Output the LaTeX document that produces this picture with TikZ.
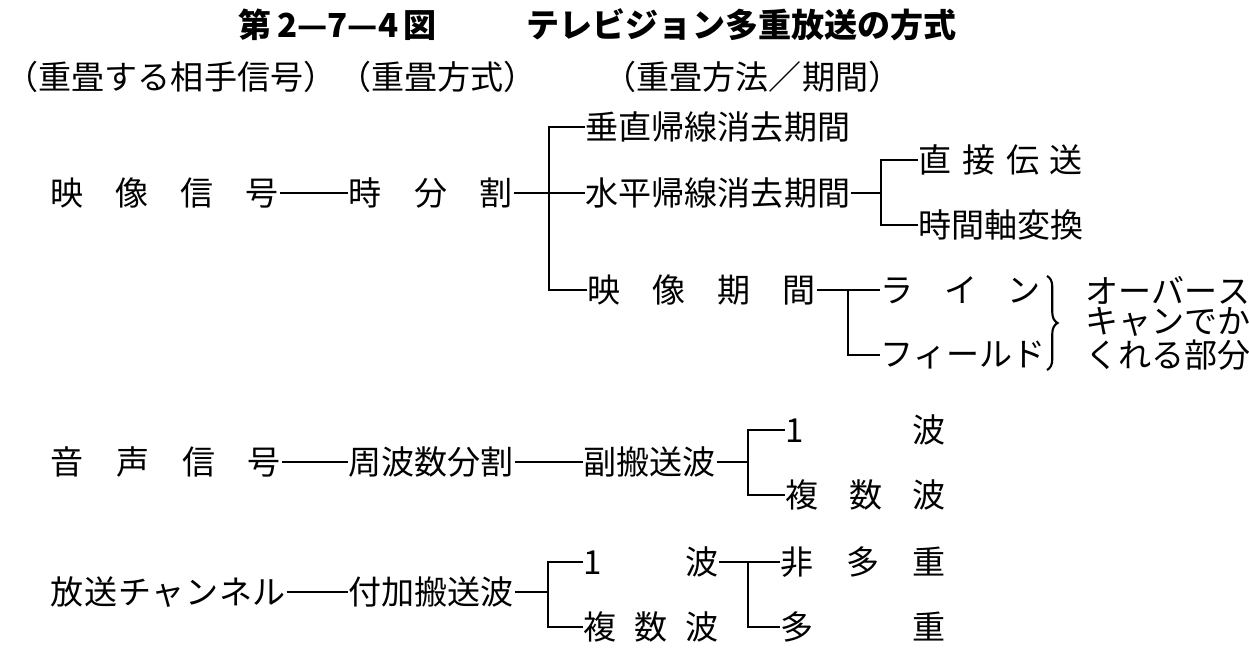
\documentclass[tikz,border=0pt]{standalone}
\usepackage{fontspec}
\setmainfont{Noto Sans CJK JP}
\usetikzlibrary{positioning, decorations.pathreplacing}
\newcommand\labfont{\fontsize{9.4}{11}\selectfont}
\newcommand\spreadtxt[2]{\makebox[#1][s]{#2}}
\tikzset{
  lbl/.style={anchor=west, inner sep=0pt, font=\labfont},
  conn/.style={line width=0.6pt}
}
\begin{document}
\begin{tikzpicture}[x=0.01cm, y=-0.01cm]
\useasboundingbox (0,0) rectangle (1249,649);
\fill[white] (0,0) rectangle (1249,649);
% Title and column heads
\node[anchor=west, inner sep=0pt, font=\labfont\bfseries] (title) at (238,25) {第\,2—7—4\,図\hspace{0.9cm}テレビジョン多重放送の方式};
\node[lbl] (headsig) at (5,77) {（重畳する相手信号）};
\node[lbl] (headway) at (338,77) {（重畳方式）};
\node[lbl] (headper) at (603,77) {（重畳方法／期間）};
% Video signal
\node[lbl] (vidsig) at (50,193) {\spreadtxt{2.28cm}{映\hfil 像\hfil 信\hfil 号}};
\node[lbl] (tdm) at (348,193) {\spreadtxt{1.64cm}{時\hfil 分\hfil 割}};
\node[lbl] (vblank) at (585,127) {垂直帰線消去期間};
\node[lbl] (hblank) at (585,193) {水平帰線消去期間};
\node[lbl] (direct) at (918,160) {\spreadtxt{1.64cm}{直\hfil 接\hfil 伝\hfil 送}};
\node[lbl] (tcomp) at (918,225) {時間軸変換};
\node[lbl] (actper) at (587,290) {\spreadtxt{2.28cm}{映\hfil 像\hfil 期\hfil 間}};
\node[lbl] (linesc) at (880,290) {\spreadtxt{1.6cm}{ラ\hfil イ\hfil ン}};
\node[lbl] (fieldsc) at (880,355) {\spreadtxt{1.6cm}{フ\hfil ィ\hfil ー\hfil ル\hfil ド}};
\node[lbl] (note1) at (1085,290) {\spreadtxt{1.52cm}{オ\hfil ー\hfil バ\hfil ー\hfil ス}};
\node[lbl] (note2) at (1085,322) {\spreadtxt{1.52cm}{キ\hfil ャ\hfil ン\hfil で\hfil か}};
\node[lbl] (note3) at (1085,355) {\spreadtxt{1.52cm}{く\hfil れ\hfil る\hfil 部\hfil 分}};
\draw[conn] (vidsig) -- (tdm);
\draw[conn] (tdm) -- (hblank);
\path (vblank.west) ++(-36,0) coordinate (tdmbr);
\draw[conn] (vblank.west) -- (tdmbr) |- (actper.west);
\path (direct.west) ++(-37,0) coordinate (hbr);
\draw[conn] (direct.west) -- (hbr) |- (tcomp.west);
\draw[conn] (hblank.east) -- (hblank.east -| hbr);
\draw[conn] (actper) -- (linesc);
\path (fieldsc.west) ++(-32,0) coordinate (apbr);
\draw[conn] (apbr |- linesc.west) |- (fieldsc.west);
% Brace
\draw[conn, decorate, decoration={brace, amplitude=3pt}] (1047,276) -- (1047,370);
% Audio signal
\node[lbl] (audsig) at (50,462) {\spreadtxt{2.3cm}{音\hfil 声\hfil 信\hfil 号}};
\node[lbl] (fdm) at (348,462) {周波数分割};
\node[lbl] (subc) at (583,462) {副搬送波};
\node[lbl] (onew) at (785,430) {\spreadtxt{1.6cm}{1\hfil 波}};
\node[lbl] (multw) at (785,495) {\spreadtxt{1.6cm}{複\hfil 数\hfil 波}};
\draw[conn] (audsig) -- (fdm);
\draw[conn] (fdm) -- (subc);
\path (onew.west) ++(-37,0) coordinate (subbr);
\draw[conn] (onew.west) -- (subbr) |- (multw.west);
\draw[conn] (subc.east) -- (subc.east -| subbr);
% Broadcast channel
\node[lbl] (chan) at (50,592) {\spreadtxt{2.35cm}{放\hfil 送\hfil チ\hfil ャ\hfil ン\hfil ネ\hfil ル}};
\node[lbl] (addc) at (348,592) {付加搬送波};
\node[lbl] (onew2) at (583,562) {\spreadtxt{1.35cm}{1\hfil 波}};
\node[lbl] (multw2) at (583,627) {\spreadtxt{1.35cm}{複\hfil 数\hfil 波}};
\node[lbl] (nomux) at (780,562) {\spreadtxt{1.65cm}{非\hfil 多\hfil 重}};
\node[lbl] (mux) at (780,627) {\spreadtxt{1.65cm}{多\hfil 重}};
\draw[conn] (chan) -- (addc);
\path (onew2.west) ++(-35,0) coordinate (addbr);
\draw[conn] (onew2.west) -- (addbr) |- (multw2.west);
\draw[conn] (addc.east) -- (addc.east -| addbr);
\draw[conn] (onew2) -- (nomux);
\path (mux.west) ++(-32,0) coordinate (wbr);
\draw[conn] (wbr |- nomux.west) |- (mux.west);
\end{tikzpicture}
\end{document}
